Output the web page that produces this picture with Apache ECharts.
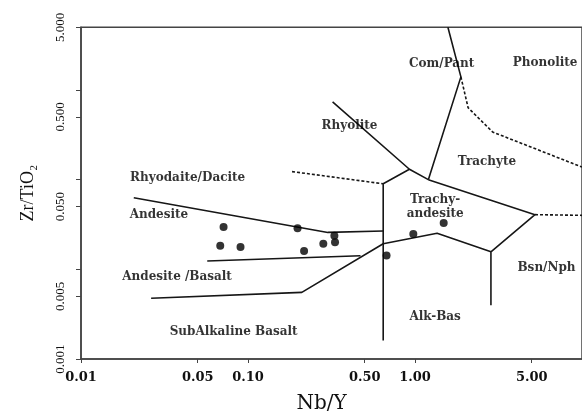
<!DOCTYPE html>
<html>
<head>
<meta charset="utf-8">
<script src="https://cdn.jsdelivr.net/npm/echarts@6/dist/echarts.min.js"></script>
<style>
  html, body { margin: 0; padding: 0; background: #fff; }
  #chart { width: 582px; height: 419px; }
</style>
</head>
<body>
<div id="chart"></div>
<script>
// ---- Data ----
const sampleNbY  = [0.0714, 0.198, 0.329, 0.332, 0.2825, 0.0682, 0.0902, 0.2167, 0.6755, 0.977, 1.485];
const sampleZrTi = [0.0297, 0.0287, 0.0237, 0.0201, 0.0193, 0.0183, 0.01774, 0.01605, 0.01428, 0.0247, 0.0328];

// Field boundaries, [Nb/Y, Zr/TiO2] vertices
const bComPantTrachyte = [[1.574, 5], [1.883, 1.40], [1.202, 0.100]];
const bRhyolite        = [[0.321, 0.737], [0.926, 0.1306], [1.202, 0.100]];
const bTrachyandLeft   = [[0.926, 0.1306], [0.645, 0.0899], [0.645, 0.00161]];
const bTrachyteLower   = [[1.202, 0.100], [5.23, 0.0407], [2.849, 0.01566], [2.849, 0.00397]];
const bAlkaline        = [[2.849, 0.01566], [1.356, 0.0252], [0.645, 0.0193], [0.210, 0.00553], [0.0263, 0.00476]];
const bAndBasTop       = [[0.0570, 0.01239], [0.4718, 0.01417]];
const bAndesiteTop     = [[0.0207, 0.0627], [0.3006, 0.0258], [0.645, 0.0268]];
const dPhonolite       = [[1.883, 1.40], [2.08, 0.634], [2.915, 0.340], [8.61, 0.154], [10, 0.138]];
const dRhyodacite      = [[0.1835, 0.123], [0.645, 0.0899]];
const dBsnNph          = [[5.23, 0.0407], [10, 0.040]];

// Field names and anchor points
const fieldNames = ['Com/Pant', 'Phonolite', 'Rhyolite', 'Trachyte', 'Trachy-\nandesite',
                    'Rhyodaite/Dacite', 'Andesite', 'Andesite /Basalt', 'SubAlkaline Basalt',
                    'Alk-Bas', 'Bsn/Nph'];
const fieldNbY  = [1.445, 3.82, 0.405, 2.70, 1.32, 0.0435, 0.0293, 0.0376, 0.082, 1.32, 4.08];
const fieldZrTi = [1.95, 2.0, 0.400, 0.158, 0.0494, 0.1044, 0.0407, 0.00818, 0.00199, 0.00296, 0.01032];
const fieldLeftAligned = ['Phonolite', 'Bsn/Nph'];

// Axis ticks / labels
const xTickValues  = [0.01, 0.05, 0.1, 0.5, 1, 5];
const yTickValues  = [0.001, 0.005, 0.01, 0.05, 0.1, 0.5, 1, 5];
const yLabelValues = [0.001, 0.005, 0.05, 0.5, 5];

// ---- Chart ----
const chart = echarts.init(document.getElementById('chart'), null, { renderer: 'canvas' });
const lineCol = '#161616';
const axisCol = '#444';

function boundary(data, dashed) {
  return {
    type: 'line', data: data, showSymbol: false, symbol: 'none', silent: true,
    lineStyle: { color: lineCol, width: 1.6, type: dashed ? [3, 2] : 'solid' },
    z: 2, animation: false
  };
}

const fieldData = fieldNames.map((n, i) => {
  const left = fieldLeftAligned.indexOf(n) >= 0;
  return {
    name: n, value: [fieldNbY[i], fieldZrTi[i]],
    label: left ? { position: 'right', distance: 0, align: 'left' } : { position: 'inside' }
  };
});

const option = {
  animation: false,
  backgroundColor: '#fff',
  grid: { left: 81, right: -11, top: 27.3, bottom: 50.5, show: true, borderColor: axisCol, borderWidth: 1.5, containLabel: false },
  xAxis: {
    type: 'log', logBase: 10, min: 0.01, max: 10,
    name: 'Nb/Y', nameLocation: 'middle', nameGap: 35,
    nameTextStyle: { fontFamily: 'DejaVu Serif', fontSize: 20, color: '#111', padding: [0, 20, 0, 0] },
    axisLine: { show: true, lineStyle: { color: axisCol, width: 1.5 } },
    axisTick: { show: true, customValues: xTickValues, length: 4, lineStyle: { color: axisCol, width: 1 } },
    axisLabel: {
      customValues: xTickValues, margin: 12,
      fontFamily: 'DejaVu Serif', fontWeight: 'bold', fontSize: 13, color: '#111',
      formatter: v => Number(v).toFixed(2)
    },
    splitLine: { show: false }, minorTick: { show: false }
  },
  yAxis: {
    type: 'log', logBase: 10, min: 0.001, max: 5,
    name: 'Zr/TiO₂', nameLocation: 'middle', nameRotate: 90, nameGap: 44,
    nameTextStyle: { fontFamily: 'Liberation Serif', fontSize: 18, color: '#111' },
    axisLine: { show: true, lineStyle: { color: axisCol, width: 1.5 } },
    axisTick: { show: true, customValues: yTickValues, length: 5, lineStyle: { color: axisCol, width: 1 } },
    axisLabel: {
      customValues: yLabelValues, rotate: 90, margin: 14,
      fontFamily: 'Liberation Serif', fontSize: 13, color: '#111',
      formatter: v => Number(v).toFixed(3)
    },
    splitLine: { show: false }, minorTick: { show: false }
  },
  series: [
    boundary(bComPantTrachyte, false),
    boundary(bRhyolite, false),
    boundary(bTrachyandLeft, false),
    boundary(bTrachyteLower, false),
    boundary(bAlkaline, false),
    boundary(bAndBasTop, false),
    boundary(bAndesiteTop, false),
    boundary(dPhonolite, true),
    boundary(dRhyodacite, true),
    boundary(dBsnNph, true),
    {
      type: 'scatter', silent: true, z: 3,
      data: sampleNbY.map((x, i) => [x, sampleZrTi[i]]),
      symbol: 'circle', symbolSize: 8,
      itemStyle: { color: '#000' }
    },
    {
      type: 'scatter', silent: true, z: 4,
      data: fieldData, symbolSize: 1,
      itemStyle: { color: 'rgba(0,0,0,0)' },
      label: {
        show: true, formatter: p => p.name,
        fontFamily: 'DejaVu Serif', fontWeight: 'bold', fontSize: 12, color: '#000',
        lineHeight: 13.5, align: 'center'
      },
      labelLayout: { hideOverlap: false }
    }
  ]
};
chart.setOption(option);
</script>
</body>
</html>
